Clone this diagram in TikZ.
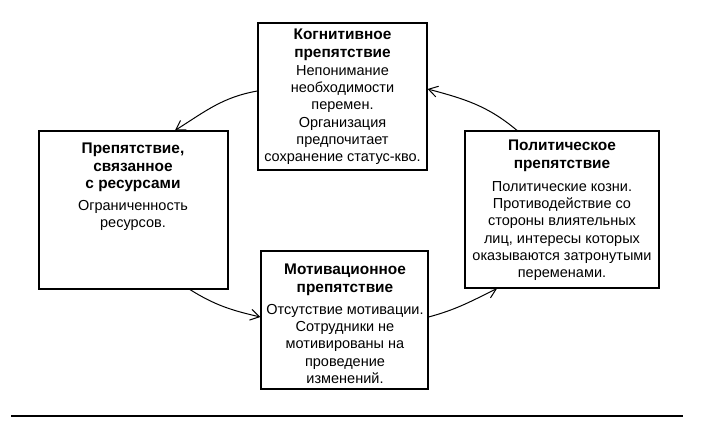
\documentclass[tikz,border=0pt]{standalone}
\usepackage{fontspec}
\setmainfont{Liberation Sans}
\usetikzlibrary{arrows.meta}
\newcommand{\hd}[1]{{\fontsize{15.4}{17.3}\selectfont\bfseries #1}}
\begin{document}
\begin{tikzpicture}[x=1pt,y=-1pt,
  boxstyle/.style={draw, line width=1.2pt, inner sep=0pt},
  txtstyle/.style={anchor=north, inner sep=0pt, align=center,
     font=\fontsize{14.5}{17.3}\selectfont},
  conn/.style={line width=1pt, -{Straight Barb[length=9pt,width=11pt,line width=1pt]}}]
\useasboundingbox (0,0) rectangle (702,438);
% boxes
\node[boxstyle, minimum width=169pt, minimum height=147pt] (kog) at (342.5,96.5) {};
\node[boxstyle, minimum width=189pt, minimum height=158pt] (res) at (133.5,210) {};
\node[boxstyle, minimum width=194pt, minimum height=157pt] (pol) at (562,209.5) {};
\node[boxstyle, minimum width=167pt, minimum height=138pt] (mot) at (344.5,320) {};
% texts
\node[txtstyle] (kogt) at (342.5,29) {\hd{Когнитивное}\\ \hd{препятствие}\\[1pt]
  Непонимание\\ необходимости\\ перемен.\\ Организация\\ предпочитает\\ сохранение статус-кво.};
\node[txtstyle] (rest) at (133,143) {\hd{Препятствие,}\\ \hd{связанное}\\ \hd{с ресурсами}\\[5pt]
  Ограниченность\\ ресурсов.};
\node[txtstyle] (polt) at (562,140) {\hd{Политическое}\\ \hd{препятствие}\\[6pt]
  Политические козни.\\ Противодействие со\\ стороны влиятельных\\ лиц, интересы которых\\ оказываются затронутыми\\ переменами.};
\node[txtstyle] (mott) at (345,264) {\hd{Мотивационное}\\ \hd{препятствие}\\[5pt]
  Отсутствие мотивации.\\ Сотрудники не\\ мотивированы на\\ проведение\\ изменений.};
% connectors
\draw[conn] (kog.west |- 0,91) to[out=190,in=32] (res.north -| 175,0);
\draw[conn] (pol.north -| 517,0) to[out=140,in=-15] (kog.east |- 0,89);
\draw[conn] (res.south -| 190,0) to[out=-32,in=167] (mot.west |- 0,317);
\draw[conn] (mot.east |- 0,317) to[out=15,in=206] (pol.south -| 497,0);
% bottom rule
\coordinate (ruleL) at (11,416);
\coordinate (ruleR) at (683,416);
\draw[line width=1.3pt] (ruleL) -- (ruleR);
\end{tikzpicture}
\end{document}
